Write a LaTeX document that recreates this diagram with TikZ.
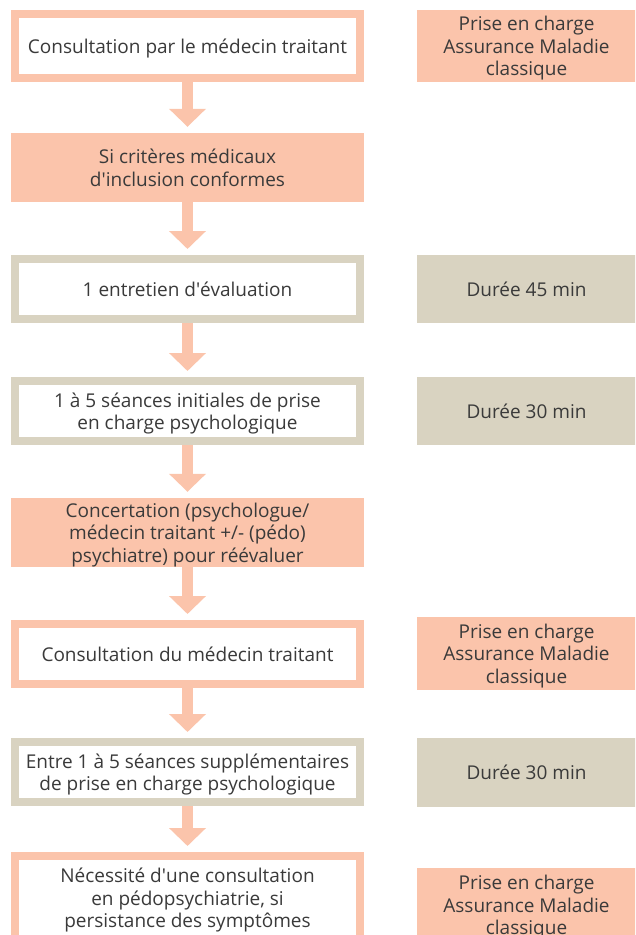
\documentclass[tikz,border=0pt]{standalone}
\usepackage{fontspec}
\setmainfont{Open Sans}
\usetikzlibrary{arrows.meta}

\definecolor{saumon}{RGB}{251,196,171}
\definecolor{beige}{RGB}{217,211,193}
\definecolor{gristexte}{RGB}{58,58,58}
\newcommand{\apos}{\textquotesingle}

\tikzset{
  every node/.style={font=\fontsize{19}{22.5}\selectfont, text=gristexte, align=center, inner sep=0pt, text depth=0pt},
  cadre/.style={draw=#1, line width=8pt, fill=white, minimum width=345pt},
  plein/.style={fill=saumon, minimum width=353pt, minimum height=69pt},
  cote/.style={fill=#1, minimum width=219pt},
  fleche/.style={draw=saumon, line width=11pt, -{Triangle[length=18pt, width=36pt]}, shorten >=6pt}
}

\begin{document}
\begin{tikzpicture}[x=1pt, y=-1pt]
  \path[use as bounding box, clip] (0,0) rectangle (635,935);

  % colonne de gauche
  \node[cadre=saumon, minimum height=64pt] (b1) at (187.5, 46) {Consultation par le médecin traitant};
  \node[plein] (b2) at (187.5, 167.5) {Si critères médicaux\\d\apos inclusion conformes};
  \node[cadre=beige, minimum height=60pt] (b3) at (187.5, 289) {1 entretien d\apos évaluation};
  \node[cadre=beige, minimum height=60pt] (b4) at (187.5, 411) {1 à 5 séances initiales de prise\\en charge psychologique};
  \node[plein] (b5) at (187.5, 532.5) {Concertation (psychologue/\\médecin traitant +/- (pédo)\\psychiatre) pour réévaluer};
  \node[cadre=saumon, minimum height=60pt] (b6) at (187.5, 654) {Consultation du médecin traitant};
  \node[cadre=beige, minimum height=60pt] (b7) at (187.5, 772) {Entre 1 à 5 séances supplémentaires\\de prise en charge psychologique};
  \node[cadre=saumon, minimum height=84pt] (b8) at (187.5, 898) {Nécessité d\apos une consultation\\en pédopsychiatrie, si\\persistance des symptômes};

  % colonne de droite
  \node[cote=saumon, minimum height=72pt] (r1) at (526.5, 46) {Prise en charge\\Assurance Maladie\\classique};
  \node[cote=beige, minimum height=68pt] (r3) at (526.5, 289) {Durée 45 min};
  \node[cote=beige, minimum height=68pt] (r4) at (526.5, 411) {Durée 30 min};
  \node[cote=saumon, minimum height=73pt] (r6) at (526.5, 653.5) {Prise en charge\\Assurance Maladie\\classique};
  \node[cote=beige, minimum height=69pt] (r7) at (526.5, 772.5) {Durée 30 min};
  \node[cote=saumon, minimum height=74pt] (r8) at (526.5, 905) {Prise en charge\\Assurance Maladie\\classique};

  \foreach \a/\b in {b1/b2, b2/b3, b3/b4, b4/b5, b5/b6, b6/b7, b7/b8}
    \draw[fleche] (\a) -- (\b);
\end{tikzpicture}
\end{document}
